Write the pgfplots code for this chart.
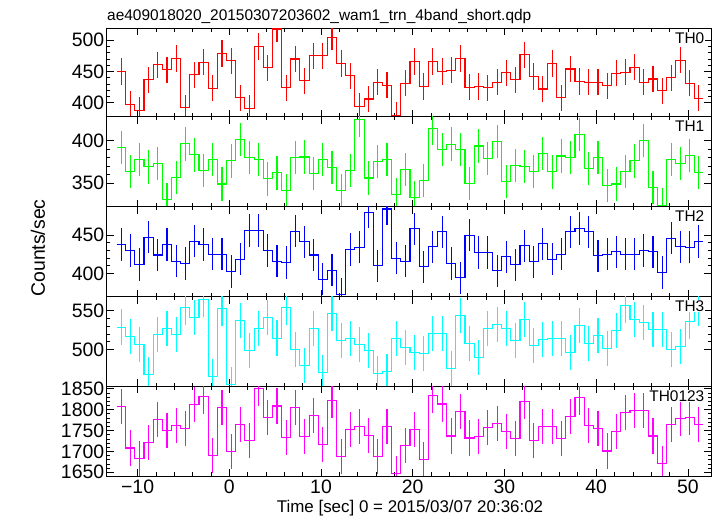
\documentclass[border=0pt]{standalone}
\usepackage{fontspec}
\setmainfont{Liberation Sans}
\usepackage{pgfplots}
\usepackage{pgfplotstable}
\pgfplotsset{compat=1.18}
\newcommand\fs{\fontsize{15.5}{18}\selectfont}
\newcommand\tfs{\fontsize{19.5}{22}\selectfont}
\definecolor{cR}{rgb}{1,0,0}
\definecolor{cG}{rgb}{0,1,0}
\definecolor{cB}{rgb}{0,0,1}
\definecolor{cC}{rgb}{0,1,1}
\definecolor{cM}{rgb}{1,0,1}

\pgfplotstableread{
t a b c d s
-12.3 450 391.5 437.8 528.9 1807
-11.3 397 364 430 516.4 1708
-10.3 388 377.5 411.7 506.5 1682
-9.3 437 369 447 467.7 1722
-8.3 461 373 424 519.4 1776.6
-7.3 453 331 437.8 527.6 1749
-6.3 471 356.6 415.7 519.4 1761.7
-5.3 392 396 413 554.7 1755.5
-4.3 445 383 442 541.4 1811.7
-3.3 465 365 437.8 564.6 1832
-2.3 423 377.5 424.8 465.5 1690.7
-1.3 479 349 424.8 553 1804
-0.3 467 376 402.6 455 1700
0.7 408 401 418.3 537.5 1764
1.7 391 380 456 498.7 1726.6
2.7 490 377.5 456 527.2 1850.8
3.7 456 355 430 541.8 1782
4.7 518 362 415.7 514.7 1808.6
5.7 424 341 414.3 553.9 1733.6
6.7 470 380 455.2 500.4 1804
7.7 435 380.6 441.3 479.3 1736
8.7 475 361 424 527.2 1786
9.7 475 378 392.2 470.7 1716.4
10.7 505 368.6 404 546.1 1822.7
11.7 463 341.5 373 511.6 1686.8
12.7 443 365 431.3 514.2 1751.6
13.7 394 424 434 506.9 1759.4
14.7 406 356 479.6 498.7 1739
15.7 433 375 410 468.5 1686.8
16.7 428 378 484 471.1 1760
17.7 380 337 419.6 514.2 1648
18.7 431 366 415.7 503 1715
19.7 466 333 458.3 496.1 1752.4
20.7 426 353 408.7 494.4 1680.5
21.7 466 413.6 434.8 520.7 1834.4
22.7 450 389 454.3 520.3 1813.3
23.7 452 395.7 413 475.9 1736.8
24.7 471 389.5 394.3 544 1796
25.7 425 349.6 450 507.8 1732
26.7 426 393.4 427.4 490.1 1736
27.7 424 378.7 427.4 527.2 1757
28.7 433 398.4 403.5 532.3 1767.2
29.7 448 352.3 421.7 527.2 1748.5
30.7 437 370.5 411.3 511.2 1729.7
31.7 477 369.8 436 538.8 1819.5
32.7 442 363.6 415.2 504.7 1725
33.7 422 384.5 438.7 512.9 1759.4
34.7 463 363.2 418.7 514.2 1759.4
35.7 408 381.8 425.2 514.2 1729.7
36.7 454 379.8 454.3 495.7 1783.6
37.7 434 406.6 458.7 530.6 1829
38.7 433 367 454.3 507.8 1761
39.7 433 379.8 423 517.7 1755.5
40.7 427 347 425.2 501.7 1700.8
41.7 447 349 428.3 525 1748.5
42.7 449 363.6 424.8 556.5 1792.2
43.7 457 376 425.2 538.8 1797.7
44.7 433 399.6 430 534.5 1797.7
45.7 438 345.3 428.3 525.9 1736.8
46.7 419 324.4 401.3 525.9 1671
47.7 440 377.5 445.7 500.4 1764
48.7 468 373 434.8 503.5 1778
49.7 431 382 434 536.6 1780.5
50.7 407 362.4 441.7 553 1763.3
51.7 407 362.4 441.7 553 1763.3
}\data

\pgfplotsset{
  panel/.style={
    width=604.3bp, scale only axis,
    xmin=-13.37, xmax=52.53,
    xtick={-10,0,...,50}, minor x tick num=4, minor y tick num=4,
    tick align=inside,
    major tick length=7bp, minor tick length=3.5bp,
    tick style={black, line width=0.6pt},
    axis line style={line width=0.9pt},
    xticklabels={},
    /pgf/number format/assume math mode=true,
    /pgf/number format/set thousands separator={},
    ticklabel style={font=\tfs},
    yticklabel style={xshift=1bp},
  },
}
% #1 colour, #2 column, #3 half error, #4 full error
\newcommand\steperr[4]{%
  \addplot[draw=#1, line width=1.1bp, const plot mark left, mark=none] table[x=t, y=#2] {\data};
  \addplot[draw=#1, line width=1.1bp, mark=none, quiver={u=0, v=#4},
    skip coords between index={64}{65}]
    table[x expr=\thisrow{t}+0.5, y expr=\thisrow{#2}-#3] {\data};
}

\begin{document}
\begin{tikzpicture}[x=1bp,y=1bp]
\useasboundingbox (0,0) rectangle (717,516);

\begin{axis}[panel, name=p0, at={(106.7bp,399.2bp)}, anchor=south west, height=88.5bp,
  ymin=377.5, ymax=519.2, ytick={400,450,500}]
  \steperr{cR}{a}{21}{42}
\end{axis}

\begin{axis}[panel, name=p1, at={(106.7bp,309.2bp)}, anchor=south west, height=90bp,
  ymin=322.4, ymax=427.6, ytick={350,400}]
  \steperr{cG}{b}{19.5}{39}
\end{axis}

\begin{axis}[panel, name=p2, at={(106.7bp,219.2bp)}, anchor=south west, height=90bp,
  ymin=369.5, ymax=486.9, ytick={400,450}]
  \steperr{cB}{c}{21}{42}
\end{axis}

\begin{axis}[panel, name=p3, at={(106.7bp,129.8bp)}, anchor=south west, height=89.4bp,
  ymin=452.6, ymax=568, ytick={500,550}]
  \steperr{cC}{d}{22.7}{45.4}
\end{axis}

\begin{axis}[panel, name=p4, at={(106.7bp,40bp)}, anchor=south west, height=89.8bp,
  ymin=1641, ymax=1856, ytick={1650,1700,...,1850},
  xticklabels={−10,0,10,20,30,40,50}]
  \steperr{cM}{s}{42}{84}
\end{axis}

\foreach \p/\l in {p0/TH0,p1/TH1,p2/TH2,p3/TH3,p4/TH0123}
  \node[anchor=north east, font=\fs, fill=white, inner sep=0.5pt] at ([xshift=-6bp, yshift=-3.5bp]\p.north east) {\l};

\node[anchor=base west, inner sep=0pt, font=\fs] at (107,495.3) {ae409018020\_20150307203602\_wam1\_trn\_4band\_short.qdp};
\node[rotate=90, inner sep=0pt, font=\tfs] at (38,268) {Counts/sec};
\node[inner sep=0pt, font=\fontsize{17}{20}\selectfont] at (410,8) {Time [sec] 0 = 2015/03/07 20:36:02};
\end{tikzpicture}
\end{document}
